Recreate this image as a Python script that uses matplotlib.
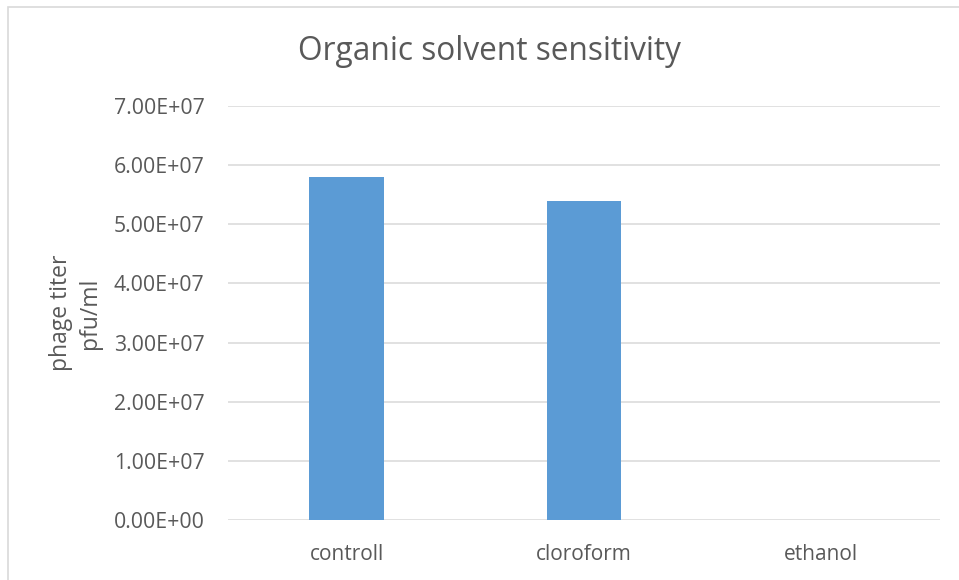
import matplotlib
matplotlib.use("Agg")
import matplotlib.pyplot as plt
from matplotlib.patches import Rectangle
from matplotlib.ticker import FuncFormatter

categories = ["controll", "cloroform", "ethanol"]
values = [5.8e7, 5.4e7, 0.0]
yticks = [0, 1e7, 2e7, 3e7, 4e7, 5e7, 6e7, 7e7]

plt.rcParams['font.family'] = ['Open Sans', 'DejaVu Sans']
plt.rcParams['ytick.major.pad'] = 17
plt.rcParams['xtick.major.pad'] = 17
plt.rcParams['ytick.major.size'] = 0
plt.rcParams['xtick.major.size'] = 0
gray = '#595959'

fig = plt.figure(figsize=(9.59, 5.8), dpi=100)
ax = fig.add_axes([228/959, 1-520/580, (940-228)/959, (520-106)/580])

x = list(range(len(categories)))
ax.bar(x, values, width=0.316, color='#5b9bd5', zorder=3)
ax.set_xlim(-0.5, len(categories)-0.5)
ax.set_ylim(0, 7e7)
ax.set_yticks(yticks)
ax.yaxis.set_major_formatter(FuncFormatter(lambda v, p: f"{v:.2E}"))
ax.set_xticks(x)
ax.set_xticklabels(categories)
ax.grid(axis='y', color='#d9d9d9', linewidth=1.1, zorder=0)
for s in ax.spines.values():
    s.set_visible(False)
ax.tick_params(axis='y', labelsize=15.3, labelcolor=gray)
ax.tick_params(axis='x', labelsize=15, labelcolor=gray)
ax.set_ylabel("phage titer\npfu/ml", fontsize=16.5, color=gray, labelpad=8.3, linespacing=1.25)
fig.text(489/959, 1-52/580, "Organic solvent sensitivity", ha='center', va='center', fontsize=22.8, color=gray)

fig.patches.append(Rectangle((8/959, -0.1), 1.2, (1-6.5/580)+0.1, transform=fig.transFigure,
                             fill=False, edgecolor='#d9d9d9', linewidth=1.2))
fig.savefig("out.png", dpi=100)
